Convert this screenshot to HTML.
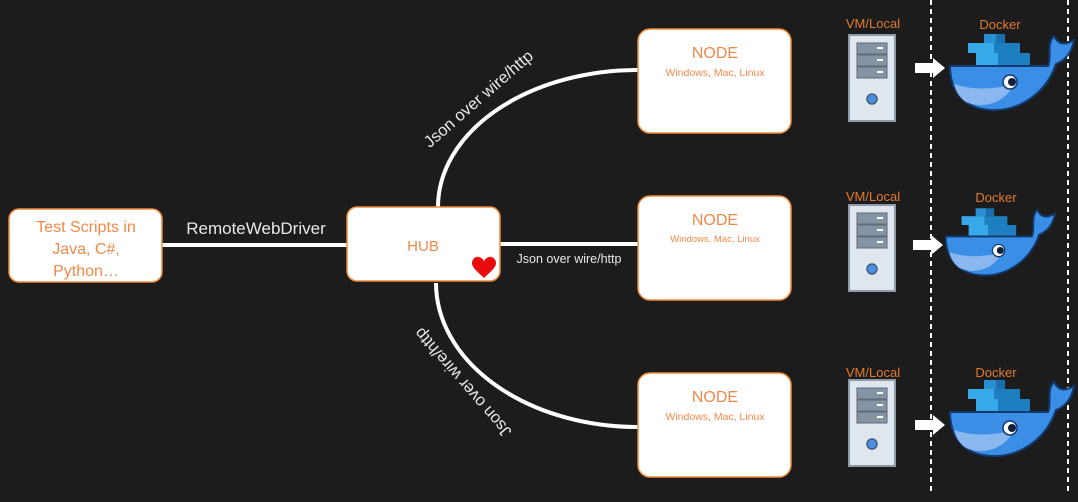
<!DOCTYPE html>
<html><head><meta charset="utf-8"><style>
html,body{margin:0;padding:0;background:#1c1c1c;}
svg{display:block}
text{font-family:"Liberation Sans",sans-serif}
</style></head><body>
<svg width="1078" height="502" viewBox="0 0 1078 502" xmlns="http://www.w3.org/2000/svg">
<rect width="1078" height="502" fill="#1c1c1c"/>
<defs>
<g id="srv">
<rect x="0" y="0" width="46" height="86" fill="#dfe6ee" stroke="#8d9aa8" stroke-width="2"/>
<rect x="8" y="8" width="30" height="11" fill="#8593a2" stroke="#5d6b7a"/>
<rect x="8" y="20" width="30" height="11" fill="#8593a2" stroke="#5d6b7a"/>
<rect x="8" y="32" width="30" height="11" fill="#8593a2" stroke="#5d6b7a"/>
<rect x="28" y="12" width="6" height="2" fill="#fff"/>
<rect x="28" y="24" width="6" height="2" fill="#fff"/>
<rect x="28" y="36" width="6" height="2" fill="#fff"/>
<circle cx="23" cy="64" r="5" fill="#4a8fe0" stroke="#40607f" stroke-width="1.5"/>
</g>
<g id="whale">
<rect x="36" y="6" width="12" height="9" fill="#2a8fd0"/><rect x="48" y="6" width="9" height="9" fill="#1a6fb0"/>
<rect x="20" y="15" width="26" height="10" fill="#37a8e8"/><rect x="46" y="15" width="26" height="10" fill="#1e7fc0"/>
<rect x="28" y="25" width="22" height="12" fill="#37a8e8"/><rect x="50" y="25" width="32" height="12" fill="#1e7fc0"/>
<path d="M2,38 H100 C104,30 98,16 106,8 C110,16 116,18 126,12 C124,24 118,32 108,36 C98,66 70,84 42,82 C15,80 2,62 2,38 Z" fill="#3a8ee6" stroke="#123a70" stroke-width="2"/>
<path d="M6,56 C24,62 44,62 66,56 C58,74 36,82 18,74 C12,70 8,64 6,56 Z" fill="#8ab8ee"/>
<circle cx="62" cy="54" r="7" fill="#fff" stroke="#123a70" stroke-width="1.5"/>
<circle cx="64" cy="54" r="4" fill="#12203a"/>
</g>
<g id="arr"><path d="M0,-5 H18 V-10 L30,0 L18,10 V5 H0 Z" fill="#fff"/></g>
</defs>

<line x1="931" y1="0" x2="931" y2="492" stroke="#fff" stroke-width="2" stroke-dasharray="5,4"/>
<line x1="1068" y1="0" x2="1068" y2="492" stroke="#fff" stroke-width="2" stroke-dasharray="5,4"/>

<line x1="160" y1="245" x2="350" y2="245" stroke="#fff" stroke-width="4"/>
<line x1="498" y1="244" x2="640" y2="244" stroke="#fff" stroke-width="4"/>
<path d="M438,207 A200,137 0 0 1 640,70" fill="none" stroke="#fff" stroke-width="4"/>
<path d="M436,283 A202,144 0 0 0 640,427" fill="none" stroke="#fff" stroke-width="4"/>

<text x="256" y="234" font-size="17" fill="#e8e8e8" text-anchor="middle">RemoteWebDriver</text>
<text x="569" y="263" font-size="12.5" fill="#e8e8e8" text-anchor="middle">Json over wire/http</text>
<text transform="translate(482,103) rotate(-41)" font-size="16.5" fill="#e8e8e8" text-anchor="middle">Json over wire/http</text>
<text transform="translate(467,379) rotate(-131)" font-size="16.5" fill="#e8e8e8" text-anchor="middle">Json over wire/http</text>

<rect x="9" y="209" width="153" height="73" rx="10" fill="#fff" stroke="#f08a3c" stroke-width="1.5"/>
<text x="86" y="232" font-size="16" fill="#f0894a" text-anchor="middle">Test Scripts in</text>
<text x="86" y="254" font-size="16" fill="#f0894a" text-anchor="middle">Java, C#,</text>
<text x="86" y="276" font-size="16" fill="#f0894a" text-anchor="middle">Python…</text>

<rect x="347" y="207" width="153" height="74" rx="10" fill="#fff" stroke="#f08a3c" stroke-width="1.5"/>
<text x="423" y="251" font-size="15" fill="#f0894a" text-anchor="middle">HUB</text>
<path d="M484,278 C478,272 472,268 472,263 C472,259 476,256 479,257 C482,258 484,260 484,262 C484,260 486,258 489,257 C492,256 496,259 496,263 C496,268 490,272 484,278 Z" fill="#e80c0c"/>

<rect x="638" y="29" width="153" height="104" rx="12" fill="#fff" stroke="#f08a3c" stroke-width="1.5"/>
<text x="715" y="58" font-size="16" fill="#f0894a" text-anchor="middle">NODE</text>
<text x="715" y="76" font-size="10.5" fill="#f0894a" text-anchor="middle">Windows, Mac, Linux</text>
<rect x="638" y="196" width="153" height="104" rx="12" fill="#fff" stroke="#f08a3c" stroke-width="1.5"/>
<text x="715" y="225" font-size="16" fill="#f0894a" text-anchor="middle">NODE</text>
<text x="715" y="242" font-size="9.5" fill="#f0894a" text-anchor="middle">Windows, Mac, Linux</text>
<rect x="638" y="373" width="153" height="104" rx="12" fill="#fff" stroke="#f08a3c" stroke-width="1.5"/>
<text x="715" y="402" font-size="16" fill="#f0894a" text-anchor="middle">NODE</text>
<text x="715" y="420" font-size="10.5" fill="#f0894a" text-anchor="middle">Windows, Mac, Linux</text>

<g font-size="13" fill="#e07a30" text-anchor="middle">
<text x="873" y="28">VM/Local</text>
<text x="873" y="201">VM/Local</text>
<text x="873" y="377">VM/Local</text>
<text x="1000" y="29">Docker</text>
<text x="996" y="202">Docker</text>
<text x="996" y="377">Docker</text>
</g>
<use href="#srv" x="849" y="35"/>
<use href="#srv" x="849" y="205"/>
<use href="#srv" x="849" y="380"/>
<use href="#whale" x="948" y="28"/>
<g transform="translate(944,203) scale(0.88)"><use href="#whale"/></g>
<use href="#whale" x="948" y="374"/>
<use href="#arr" x="915" y="68"/>
<use href="#arr" x="913" y="245"/>
<use href="#arr" x="915" y="425"/>
</svg>
</body></html>
